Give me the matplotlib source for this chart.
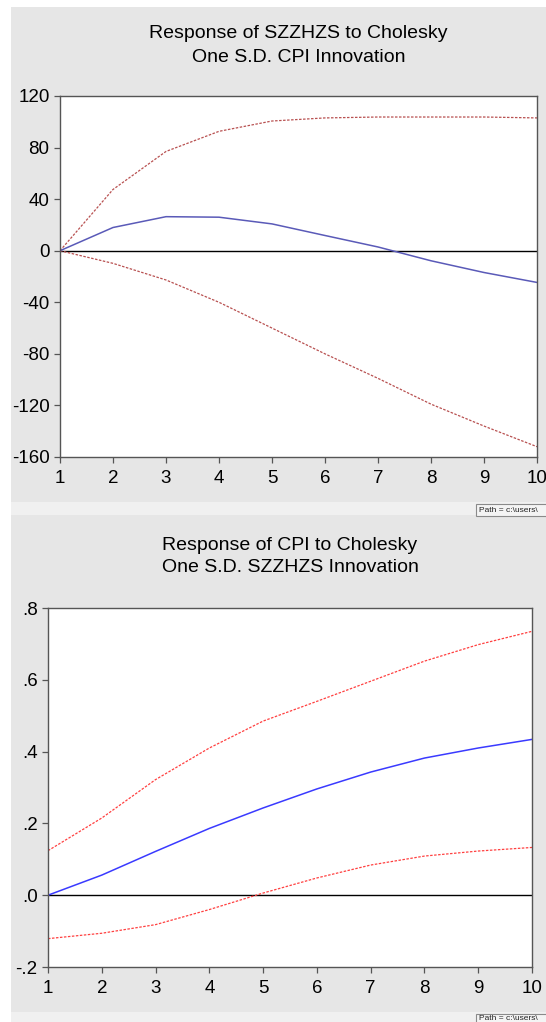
import matplotlib.pyplot as plt
import matplotlib.patches as mpatches
import numpy as np

# Periodos
periodos = [1, 2, 3, 4, 5, 6, 7, 8, 9, 10]

# Respuesta de SZZHZS a CPI
resp_szz = [0, 18, 26.4, 26.0, 20.8, 11.8, 2.9, -7.8, -16.9, -24.6]
sup_szz = [0, 47.5, 77, 92.6, 100.6, 103, 103.7, 103.7, 103.7, 103]
inf_szz = [0, -9.8, -22.7, -40, -60, -80, -99, -119, -136, -152]
yticks_szz = [120, 80, 40, 0, -40, -80, -120, -160]
yticklabels_szz = ['120', '80', '40', '0', '-40', '-80', '-120', '-160']

# Respuesta de CPI a SZZHZS
resp_cpi = [0.0, 0.056, 0.122, 0.186, 0.243, 0.296, 0.343, 0.382, 0.41, 0.434]
sup_cpi = [0.124, 0.215, 0.322, 0.41, 0.485, 0.54, 0.596, 0.652, 0.698, 0.735]
inf_cpi = [-0.121, -0.106, -0.082, -0.040, 0.006, 0.048, 0.084, 0.109, 0.123, 0.133]
yticks_cpi = [0.8, 0.6, 0.4, 0.2, 0.0, -0.2]
yticklabels_cpi = ['.8', '.6', '.4', '.2', '.0', '-.2']

plt.rcParams['font.family'] = ['Liberation Sans', 'DejaVu Sans']

W, H = 546, 1022
fig = plt.figure(figsize=(W / 100, H / 100), dpi=100)
fig.patch.set_facecolor('white')


def caja(x0, y0, x1, y1, color, z=-10, **kw):
    # rectangulo en pixeles (origen arriba a la izquierda)
    r = mpatches.Rectangle((x0 / W, 1 - y1 / H), (x1 - x0) / W, (y1 - y0) / H,
                           transform=fig.transFigure, facecolor=color,
                           zorder=z, **kw)
    fig.patches.append(r)


def ejes(x0, y0, x1, y1):
    ax = fig.add_axes([x0 / W, 1 - y1 / H, (x1 - x0) / W, (y1 - y0) / H])
    ax.set_zorder(5)
    return ax


# Fondos grises de cada ventana
caja(11, 7, 546, 502, '#e6e6e6')
caja(11, 502, 546, 515, '#f0f0f0')
caja(11, 515, 546, 1012, '#e6e6e6')
caja(11, 1012, 546, 1022, '#f0f0f0')

# Etiquetas "Path"
for ytop, yc in ((504, 510), (1014, 1018)):
    caja(476, ytop, 560, ytop + 12, '#f4f4f4', z=-5, edgecolor='#8a8a8a',
         linewidth=0.8)
    fig.text(479 / W, 1 - yc / H, 'Path = c:\\users\\', fontsize=6,
             va='center', ha='left', color='#222222')


def formato(ax, yticks, ylabels, ylim):
    ax.set_facecolor('white')
    ax.set_xlim(1, 10)
    ax.set_ylim(*ylim)
    ax.set_xticks(periodos)
    ax.set_yticks(yticks)
    ax.set_yticklabels(ylabels)
    ax.tick_params(direction='out', length=4.5, width=0.9, color='#555555',
                   labelsize=13.5, labelcolor='black', pad=3)
    ax.tick_params(axis='x', pad=5)
    for s in ax.spines.values():
        s.set_color('#555555')
        s.set_linewidth(1.0)
    ax.axhline(0, color='black', lw=1.0, zorder=1)


# Grafico superior
ax1 = ejes(60, 96, 537, 457)
formato(ax1, yticks_szz, yticklabels_szz, (-160, 120))
ax1.plot(periodos, sup_szz, color='#b85050', lw=0.9, dashes=(2, 1.2))
ax1.plot(periodos, inf_szz, color='#b85050', lw=0.9, dashes=(2, 1.2))
ax1.plot(periodos, resp_szz, color='#5a5ab8', lw=1.1)
cx = (60 + 537) / 2 / W
fig.text(cx, 1 - 33 / H, 'Response of SZZHZS to Cholesky', fontsize=14,
         ha='center', va='center')
fig.text(cx, 1 - 57 / H, 'One S.D. CPI Innovation', fontsize=14,
         ha='center', va='center')

# Grafico inferior
ax2 = ejes(48, 608, 532, 967)
formato(ax2, yticks_cpi, yticklabels_cpi, (-0.2, 0.8))
ax2.plot(periodos, sup_cpi, color='#ff4040', lw=0.9, dashes=(2, 1.2))
ax2.plot(periodos, inf_cpi, color='#ff4040', lw=0.9, dashes=(2, 1.2))
ax2.plot(periodos, resp_cpi, color='#3a3aff', lw=1.1)
cx = (48 + 532) / 2 / W
fig.text(cx, 1 - 545 / H, 'Response of CPI to Cholesky', fontsize=14,
         ha='center', va='center')
fig.text(cx, 1 - 568 / H, 'One S.D. SZZHZS Innovation', fontsize=14,
         ha='center', va='center')

plt.savefig('out.png', dpi=100)
